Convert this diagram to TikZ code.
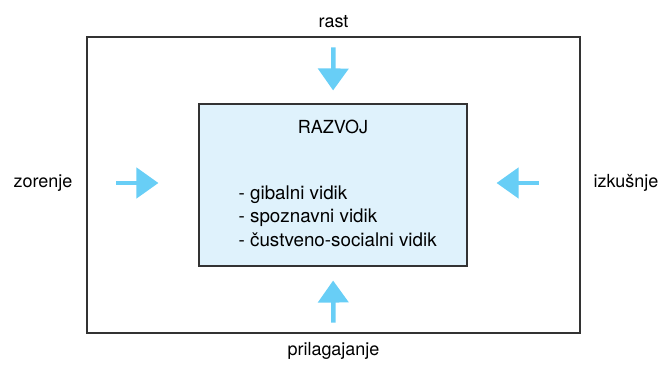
\documentclass[tikz,border=0pt]{standalone}
\usepackage{fontspec}
\setmainfont{TeX Gyre Heros}
\usetikzlibrary{arrows.meta,positioning}

\definecolor{arrowblue}{RGB}{104,206,246}
\definecolor{boxblue}{RGB}{223,242,252}
\definecolor{framegray}{RGB}{51,51,51}

\tikzset{
  frame/.style={draw=framegray,line width=1.1pt,minimum width=493pt,minimum height=296pt,inner sep=0pt},
  devbox/.style={draw=framegray,fill=boxblue,line width=1.1pt,minimum width=268pt,minimum height=162pt,inner sep=0pt},
  inarrow/.style={arrowblue,line width=4.5pt,-{Triangle[width=30pt,length=22pt]}},
  label/.style={font=\fontsize{18}{21}\selectfont,inner sep=0pt}
}

\begin{document}
\begin{tikzpicture}[x=1pt,y=1pt]
\useasboundingbox (0,0) rectangle (672,366);

% outer frame and the central box
\node[frame] (frame) at (333.5,181) {};
\node[devbox] (razvoj) at (333,181) {};
\node[label] (naslov) at ([yshift=-23pt]razvoj.north) {RAZVOJ};
\node[label,align=left,anchor=west,font=\fontsize{18.8}{23.5}\selectfont] (vidiki)
  at ([xshift=40pt,yshift=-31pt]razvoj.west)
  {- gibalni vidik\\- spoznavni vidik\\- čustveno-socialni vidik};

% factors around the frame
\node[label] (rast) at ([yshift=15pt]frame.north) {rast};
\node[label] (prilagajanje) at ([yshift=-17pt]frame.south) {prilagajanje};
\node[label] (zorenje) at (43,183) {zorenje};
\node[label] (izkusnje) at (626,183) {izkušnje};

% arrows pointing inwards
\draw[inarrow,shorten <=11pt,shorten >=13pt] (frame.north) -- (razvoj.north);
\draw[inarrow,shorten <=11pt,shorten >=14pt] (frame.south) -- (razvoj.south);
\draw[inarrow,shorten <=30pt,shorten >=40pt] ([yshift=2pt]frame.west) -- ([yshift=2pt]razvoj.west);
\draw[inarrow,shorten <=42pt,shorten >=29pt] ([yshift=2pt]frame.east) -- ([yshift=2pt]razvoj.east);
\end{tikzpicture}
\end{document}
